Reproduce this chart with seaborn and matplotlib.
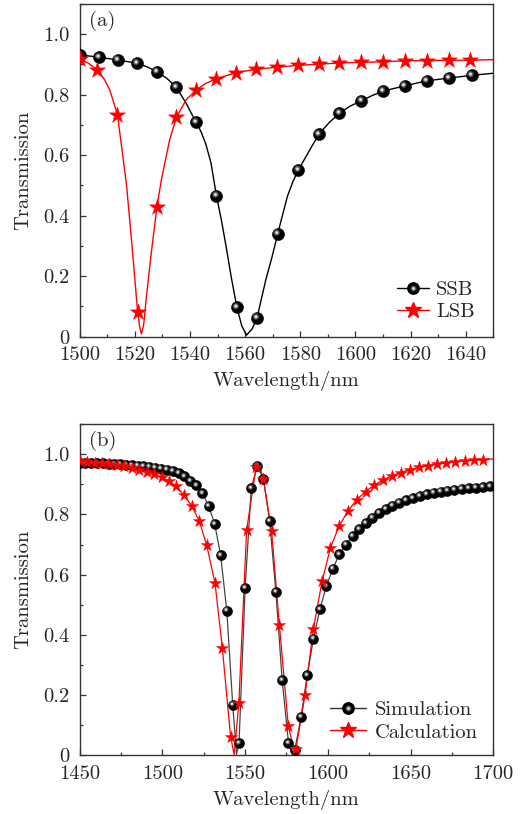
import numpy as np
import pandas as pd
import matplotlib
matplotlib.use("Agg")
import matplotlib.pyplot as plt
import matplotlib.transforms as mtransforms
from matplotlib.lines import Line2D
from matplotlib.legend_handler import HandlerTuple
from matplotlib.ticker import MultipleLocator
import seaborn as sns

# ---------------- panel (a) data ----------------
ssb_wl = [1500, 1507, 1513.8, 1520.8, 1528, 1535, 1542.2, 1549.6, 1557, 1564.3,
          1571.8, 1579.3, 1586.7, 1594.2, 1602.2, 1610, 1617.8, 1625.8, 1633.9, 1642.1]
ssb_t = [0.932, 0.924, 0.915, 0.904, 0.876, 0.825, 0.709, 0.466, 0.097, 0.062,
         0.340, 0.551, 0.669, 0.739, 0.780, 0.812, 0.829, 0.846, 0.855, 0.864]
lsb_wl = [1500, 1506.4, 1513.7, 1521.0, 1528, 1535.1, 1542.3, 1549.4, 1556.7, 1563.9,
          1571.5, 1579.2, 1586.7, 1594.2, 1602.2, 1610, 1617.8, 1625.8, 1633.9, 1641.4]
lsb_t = [0.918, 0.882, 0.734, 0.083, 0.428, 0.726, 0.816, 0.852, 0.873, 0.884,
         0.891, 0.897, 0.901, 0.905, 0.907, 0.909, 0.912, 0.913, 0.914, 0.914]
# extra points read along the fitted curves of panel (a)
ssb_curve_wl = [1524.5, 1531.5, 1538.6, 1544.0, 1545.8, 1547.6, 1551.4, 1553.1, 1555.0,
                1558.8, 1560.5, 1562.5, 1567.5, 1569.8, 1575.3, 1577.3, 1583.1, 1590.5,
                1598, 1606, 1650]
ssb_curve_t = [0.892, 0.855, 0.772, 0.678, 0.635, 0.575, 0.385, 0.298, 0.195,
               0.035, 0.005, 0.025, 0.188, 0.265, 0.463, 0.512, 0.612, 0.708,
               0.762, 0.797, 0.871]
lsb_curve_wl = [1503, 1509, 1510.9, 1515.2, 1517, 1519, 1521.8, 1522.4, 1523.2,
                1524.2, 1526, 1529.6, 1532.6, 1538.6, 1545.8, 1650]
lsb_curve_t = [0.905, 0.850, 0.816, 0.628, 0.500, 0.298, 0.030, 0.009, 0.040,
               0.132, 0.280, 0.518, 0.650, 0.783, 0.838, 0.916]

# ---------------- panel (b) data ----------------
sim_wl = [1450, 1453.5, 1457, 1460.5, 1464, 1467.5, 1471, 1474.5, 1478, 1481.5,
          1485, 1488.5, 1492, 1495.5, 1499, 1502.6, 1506.2, 1509.8, 1513.3, 1516.9,
          1520.6, 1524.2, 1527.9, 1531.6, 1535.2, 1538.9, 1542.5, 1546.3, 1550.0, 1553.7,
          1557.4, 1561.1, 1564.8, 1568.6, 1572.4, 1576.2, 1580.0, 1583.8, 1587.5, 1591.3,
          1595.2, 1599.1, 1603.0, 1606.9, 1610.9, 1614.9, 1618.9, 1622.9, 1626.9, 1630.9,
          1635, 1639, 1643.1, 1647.2, 1651.3, 1655.5, 1659.7, 1663.9, 1668.1, 1672.3,
          1676.5, 1680.8, 1685.1, 1689.4, 1693.7, 1698]
sim_t = [0.972, 0.971, 0.971, 0.970, 0.969, 0.968, 0.967, 0.966, 0.965, 0.963,
         0.962, 0.960, 0.958, 0.955, 0.952, 0.949, 0.944, 0.937, 0.926, 0.911,
         0.896, 0.870, 0.828, 0.768, 0.664, 0.481, 0.168, 0.041, 0.556, 0.887,
         0.962, 0.917, 0.778, 0.543, 0.250, 0.041, 0.018, 0.128, 0.266, 0.388,
         0.485, 0.562, 0.620, 0.667, 0.700, 0.728, 0.751, 0.771, 0.789, 0.805,
         0.818, 0.829, 0.839, 0.847, 0.854, 0.861, 0.867, 0.872, 0.876, 0.879,
         0.882, 0.885, 0.887, 0.889, 0.891, 0.893]
calc_wl = [1450, 1454.5, 1459, 1463.5, 1468, 1472.5, 1477, 1481.5, 1486, 1490.5,
           1495, 1499.5, 1504, 1508.5, 1513, 1517.7, 1522.3, 1526.8, 1531.8, 1536.2,
           1541.2, 1546.2, 1550.9, 1556.6, 1561.0, 1566.0, 1570.7, 1576.1, 1580.7, 1586.2,
           1591.2, 1596.5, 1601.6, 1606.8, 1612.2, 1617.5, 1622.8, 1627.9, 1633.2, 1638.6,
           1644, 1649.5, 1655, 1660.5, 1666, 1671.5, 1677, 1682.7, 1688.4, 1694]
calc_t = [0.977, 0.975, 0.972, 0.970, 0.967, 0.963, 0.959, 0.954, 0.948, 0.941,
          0.933, 0.923, 0.911, 0.893, 0.864, 0.829, 0.778, 0.697, 0.572, 0.358,
          0.062, 0.174, 0.748, 0.956, 0.919, 0.744, 0.433, 0.097, 0.022, 0.200,
          0.419, 0.578, 0.690, 0.761, 0.812, 0.849, 0.876, 0.897, 0.914, 0.928,
          0.939, 0.948, 0.956, 0.962, 0.967, 0.971, 0.975, 0.978, 0.980, 0.982]
# extra points read along the curves of panel (b)
sim_curve_extra_wl = [1544.8, 1578.6, 1700]
sim_curve_extra_t = [0.004, 0.004, 0.894]
calc_curve_extra_wl = [1543.4, 1558.5, 1580.0, 1700]
calc_curve_extra_t = [0.003, 0.965, 0.010, 0.984]

ytick_vals = [0, 0.2, 0.4, 0.6, 0.8, 1.0]
ytick_labels = ["0", "0.2", "0.4", "0.6", "0.8", "1.0"]
xticks_a = [1500, 1520, 1540, 1560, 1580, 1600, 1620, 1640]
xticks_b = [1450, 1500, 1550, 1600, 1650, 1700]

# ---------------- style ----------------
sns.set_theme(style="ticks")
plt.rcParams["font.family"] = ["cmr10", "DejaVu Serif"]
plt.rcParams["mathtext.fontset"] = "cm"
plt.rcParams["axes.formatter.use_mathtext"] = True
plt.rcParams["axes.unicode_minus"] = False
FS = 14.8

RED = "#ff0000"
fig = plt.figure(figsize=(5.25, 8.14), dpi=100)
ax_a = fig.add_axes([0.1518, 0.5864, 0.7878, 0.4087])
ax_b = fig.add_axes([0.1518, 0.0719, 0.7878, 0.4072])


def merged(xs, ys, ex, ey):
    df = pd.DataFrame({"wl": list(xs) + list(ex), "t": list(ys) + list(ey)})
    return df.sort_values("wl").drop_duplicates("wl")


def spheres(ax, x, y, s):
    sns.scatterplot(x=x, y=y, ax=ax, s=s, color="black", edgecolor="black",
                    linewidth=0.4, zorder=4, legend=False)
    d = np.sqrt(s)
    off = mtransforms.ScaledTranslation(-0.08 * d / 72, 0.10 * d / 72, fig.dpi_scale_trans)
    for frac, col in [(0.55, "#3a3a3a"), (0.38, "#7a7a7a"), (0.22, "#e8e8e8")]:
        sns.scatterplot(x=x, y=y, ax=ax, s=s * frac ** 2, color=col, edgecolor="none",
                        linewidth=0, zorder=5, legend=False,
                        transform=ax.transData + off)


def stars(ax, x, y, s):
    sns.scatterplot(x=x, y=y, ax=ax, s=s, marker="*", color=RED, edgecolor=RED,
                    linewidth=0.3, zorder=6, legend=False)


def style_axes(ax, xlim, xticks, xminor, label):
    ax.set_xlim(*xlim)
    ax.set_ylim(0, 1.1)
    ax.set_xticks(xticks)
    ax.set_xticklabels([str(v) for v in xticks], fontsize=FS)
    ax.xaxis.set_minor_locator(MultipleLocator(xminor))
    ax.set_yticks(ytick_vals)
    ax.set_yticklabels(ytick_labels, fontsize=FS)
    ax.yaxis.set_minor_locator(MultipleLocator(0.1))
    ax.tick_params(which="both", direction="in", color="#333333", width=0.9,
                   top=False, right=False)
    ax.tick_params(which="major", length=4, pad=7)
    ax.tick_params(which="minor", length=2.5)
    for sp in ax.spines.values():
        sp.set_visible(True)
        sp.set_color("#333333")
        sp.set_linewidth(1.0)
    ax.set_xlabel("Wavelength/nm", fontsize=FS, labelpad=5)
    ax.set_ylabel("Transmission", fontsize=FS, labelpad=8)
    ax.text(0.022, 0.978, label, transform=ax.transAxes, fontsize=FS,
            ha="left", va="top")
    ax.grid(False)


def sphere_handle(line_color):
    base = Line2D([], [], color=line_color, lw=1.0, marker="o", ms=8.2,
                  mfc="black", mec="black")
    h1 = Line2D([], [], ls="none", marker="o", ms=4.5, mfc="#3a3a3a", mec="none")
    h2 = Line2D([], [], ls="none", marker="o", ms=3.0, mfc="#7a7a7a", mec="none")
    h3 = Line2D([], [], ls="none", marker="o", ms=1.8, mfc="#e8e8e8", mec="none")
    return (base, h1, h2, h3)


def star_handle():
    return Line2D([], [], color=RED, lw=1.0, marker="*", ms=12, mfc=RED, mec=RED)


# ---------------- panel (a) ----------------
dfa_s = merged(ssb_wl, ssb_t, ssb_curve_wl, ssb_curve_t)
dfa_l = merged(lsb_wl, lsb_t, lsb_curve_wl, lsb_curve_t)
sns.lineplot(data=dfa_s, x="wl", y="t", ax=ax_a, color="black", lw=1.0,
             sort=True, estimator=None, zorder=2)
sns.lineplot(data=dfa_l, x="wl", y="t", ax=ax_a, color=RED, lw=1.0,
             sort=True, estimator=None, zorder=2)
spheres(ax_a, ssb_wl, ssb_t, 75)
stars(ax_a, lsb_wl, lsb_t, 150)
style_axes(ax_a, (1500, 1650), xticks_a, 10, "(a)")
ax_a.legend([sphere_handle("black"), star_handle()], ["SSB", "LSB"],
            handler_map={tuple: HandlerTuple(ndivide=1, pad=0)},
            loc="upper left", bbox_to_anchor=(0.767, 0.169), frameon=False,
            fontsize=FS, handlelength=1.55, handletextpad=0.35,
            borderaxespad=0, borderpad=0, labelspacing=0.2)

# ---------------- panel (b) ----------------
dfb_s = merged(sim_wl, sim_t, sim_curve_extra_wl, sim_curve_extra_t)
dfb_c = merged(calc_wl, calc_t, calc_curve_extra_wl, calc_curve_extra_t)
sns.lineplot(data=dfb_s, x="wl", y="t", ax=ax_b, color="#444444", lw=0.9,
             sort=True, estimator=None, zorder=2)
sns.lineplot(data=dfb_c, x="wl", y="t", ax=ax_b, color=RED, lw=0.9,
             sort=True, estimator=None, zorder=2)
spheres(ax_b, sim_wl, sim_t, 52)
stars(ax_b, calc_wl, calc_t, 85)
style_axes(ax_b, (1450, 1700), xticks_b, 25, "(b)")
ax_b.legend([sphere_handle("#333333"), star_handle()], ["Simulation", "Calculation"],
            handler_map={tuple: HandlerTuple(ndivide=1, pad=0)},
            loc="upper left", bbox_to_anchor=(0.605, 0.165), frameon=False,
            fontsize=FS, handlelength=1.75, handletextpad=0.45,
            borderaxespad=0, borderpad=0, labelspacing=0.2)

fig.savefig("out.png", dpi=100)
